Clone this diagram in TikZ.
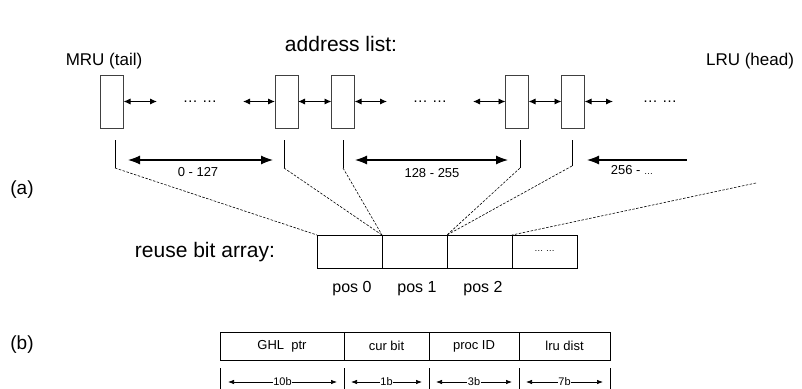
\documentclass[tikz,border=0pt]{standalone}
\usepackage{fontspec}
\setmainfont{Liberation Sans}
\usetikzlibrary{arrows.meta}

\newcommand{\fsz}[1]{\fontsize{#1}{#1}\selectfont}

\begin{document}
\begin{tikzpicture}[x=1pt,y=-1pt,
  every node/.style={inner sep=0pt, outer sep=0pt},
  entry/.style={draw=black!75, line width=0.8pt, minimum width=23pt, minimum height=53pt},
  link/.style={line width=0.9pt, arrows={Latex[length=7pt,width=6pt]-Latex[length=7pt,width=6pt]}},
  span/.style={line width=1.1pt, arrows={Latex[length=12pt,width=9pt]-Latex[length=12pt,width=9pt]}},
  spanleft/.style={line width=1.1pt, arrows={Latex[length=12pt,width=9pt]-}},
  tickline/.style={line width=0.8pt},
  guide/.style={dash pattern=on 2.5pt off 1.5pt, line width=0.6pt},
  cell/.style={draw, line width=0.8pt, minimum width=65pt, minimum height=33pt},
  field/.style={draw, line width=0.8pt, minimum height=28pt, font=\fsz{13}},
  bits/.style={line width=0.7pt, arrows={Latex[length=6pt,width=4.5pt]-Latex[length=6pt,width=4.5pt]}},
  bitlabel/.style={fill=white, inner xsep=0.6pt, inner ysep=0pt, font=\fsz{11}},
  lbl/.style={font=\fsz{17}},
  big/.style={font=\fsz{21}},
  dots/.style={font=\fsz{15}}
]
\useasboundingbox (0,0) rectangle (802,388);

% ---------- (a) address list ----------
\node[big] (title) at (341,44) {address list:};
\node[lbl] (mru) at (104,61) {MRU (tail)};
\node[lbl] (lru) at (750,61) {LRU (head)};
\node[font=\fsz{19}] (la) at (22,190) {(a)};

\node[entry] (e1) at (112,101.5) {};
\node[entry] (e2) at (286.5,101.5) {};
\node[entry] (e3) at (343,101.5) {};
\node[entry] (e4) at (517,101.5) {};
\node[entry] (e5) at (573,101.5) {};

\coordinate (f1) at (157,101.5);
\coordinate (f2) at (243,101.5);
\coordinate (f3) at (387,101.5);
\coordinate (f4) at (473,101.5);
\coordinate (f5) at (613,101.5);

\draw[link] (e1.east) -- (f1);
\draw[link] (f2) -- (e2.west);
\draw[link] (e2.east) -- (e3.west);
\draw[link] (e3.east) -- (f3);
\draw[link] (f4) -- (e4.west);
\draw[link] (e4.east) -- (e5.west);
\draw[link] (e5.east) -- (f5);

\node[dots] (d1) at (200,102) {… …};
\node[dots] (d2) at (430,102) {… …};
\node[dots] (d3) at (660,102) {… …};

% ticks marking boundaries
\coordinate (k1t) at (115,140); \coordinate (k1) at (115,168);
\coordinate (k2t) at (284,140); \coordinate (k2) at (284,168);
\coordinate (k3t) at (343,140); \coordinate (k3) at (343,168);
\coordinate (k4t) at (520,140); \coordinate (k4) at (520,168);
\coordinate (k5t) at (572,140); \coordinate (k5) at (572,166);
\foreach \k in {1,...,5} \draw[tickline] (k\k t) -- (k\k);

% position ranges
\coordinate (r1a) at (128,160); \coordinate (r1b) at (273,160);
\coordinate (r2a) at (355,160); \coordinate (r2b) at (508,160);
\coordinate (r3a) at (587,160); \coordinate (r3b) at (687,160);
\draw[span] (r1a) -- (r1b);
\draw[span] (r2a) -- (r2b);
\draw[spanleft] (r3a) -- (r3b);
\node[font=\fsz{13}] (n1) at (198,172) {0 - 127};
\node[font=\fsz{13}] (n2) at (432,173) {128 - 255};
\node[font=\fsz{13}] (n3) at (632,170) {256 - {\fsz{9}…}};

% reuse bit array
\node[big] (rba) at (205,252) {reuse bit array:};
\node[cell] (c0) at (349.5,251.5) {};
\node[cell] (c1) at (414.5,251.5) {};
\node[cell] (c2) at (479.5,251.5) {};
\node[cell, font=\fsz{9}] (c3) at (544.5,251.5) {… …};
\node[font=\fsz{16}] (p0) at (352,289) {pos 0};
\node[font=\fsz{16}] (p1) at (417,289) {pos 1};
\node[font=\fsz{16}] (p2) at (483,289) {pos 2};

\coordinate (far) at (756,183);
\draw[guide] (k1) -- (c0.north west);
\draw[guide] (k2) -- (c1.north west);
\draw[guide] (k3) -- (c1.north west);
\draw[guide] (k4) -- (c2.north west);
\draw[guide] (k5) -- (c2.north west);
\draw[guide] (far) -- (c3.north west);

% ---------- (b) entry layout ----------
\node[font=\fsz{19}] (lb) at (22,345) {(b)};
\node[field, minimum width=124pt] (t0) at (282,346) {GHL\ \ ptr};
\node[field, minimum width=85pt] (t1) at (386.5,346) {cur bit};
\node[field, minimum width=90pt] (t2) at (474,346) {proc ID};
\node[field, minimum width=91pt] (t3) at (564.5,346) {lru dist};

\foreach \i/\x in {0/220,1/344,2/429,3/519,4/610} {
  \coordinate (b\i t) at (\x,368);
  \coordinate (b\i) at (\x,389);
  \draw[tickline] (b\i t) -- (b\i);
}
\coordinate (a0l) at (228,382); \coordinate (a0r) at (337,382);
\coordinate (a1l) at (351,382); \coordinate (a1r) at (422,382);
\coordinate (a2l) at (436,382); \coordinate (a2r) at (512,382);
\coordinate (a3l) at (526,382); \coordinate (a3r) at (603,382);
\draw[bits] (a0l) -- (a0r) node[bitlabel, midway] {10b};
\draw[bits] (a1l) -- (a1r) node[bitlabel, midway] {1b};
\draw[bits] (a2l) -- (a2r) node[bitlabel, midway] {3b};
\draw[bits] (a3l) -- (a3r) node[bitlabel, midway] {7b};
\end{tikzpicture}
\end{document}
